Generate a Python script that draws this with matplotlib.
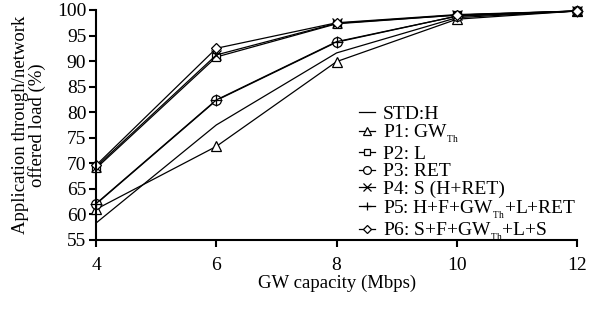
import matplotlib
matplotlib.use('Agg')
import matplotlib.pyplot as plt

plt.rcParams['font.family'] = ['Liberation Serif', 'DejaVu Serif']
plt.rcParams['mathtext.fontset'] = 'custom'
plt.rcParams['mathtext.rm'] = 'Liberation Serif'

# GW capacity (Mbps)
capacity = [4, 6, 8, 10, 12]

# application throughput / network offered load (%)
std_h = [58.3, 77.5, 91.6, 98.5, 99.8]
p1 = [61.0, 73.3, 89.9, 98.2, 99.8]
p2 = [69.0, 90.8, 97.3, 99.0, 99.8]
p3 = [62.0, 82.3, 93.7, 98.8, 99.8]
p4 = [69.3, 91.2, 97.4, 99.0, 99.8]
p5 = [62.1, 82.4, 93.8, 98.8, 99.8]
p6 = [69.6, 92.5, 97.5, 99.1, 99.8]

th = '$_{_{\\mathrm{Th}}}$'
labels = ['STD:H', 'P1: GW' + th, 'P2: L', 'P3: RET', 'P4: S (H+RET)',
          'P5: H+F+GW' + th + '+L+RET', 'P6: S+F+GW' + th + '+L+S']

series = [std_h, p1, p2, p3, p4, p5, p6]
markers = [None, '^', 's', 'o', 'x', '+', 'D']
msizes = [0, 7, 6, 7, 7, 8, 5.5]

fig = plt.figure(figsize=(5.89, 3.12), dpi=100)
ax = fig.add_axes([0.163, 0.231, 0.817, 0.737])

for y, m, ms, lab in zip(series, markers, msizes, labels):
    ax.plot(capacity, y, color='black', linewidth=0.9, marker=m, markersize=ms,
            markerfacecolor='white', markeredgecolor='black', markeredgewidth=0.9,
            label=lab, clip_on=False)

ax.set_xlim(4, 12)
ax.set_ylim(55, 100)
ax.set_xticks(capacity)
ax.set_yticks(range(55, 101, 5))
ax.spines['top'].set_visible(False)
ax.spines['right'].set_visible(False)
ax.spines['left'].set_linewidth(1.5)
ax.spines['bottom'].set_linewidth(1.5)
ax.tick_params(direction='out', length=5, width=1.5, labelsize=14, colors='black')
ax.tick_params(axis='x', pad=7)
ax.tick_params(axis='y', pad=2)

ax.set_xlabel('GW capacity (Mbps)', fontsize=13.5, labelpad=1)
ax.set_ylabel('Application through/network\noffered load (%)', fontsize=13.5,
              labelpad=8, linespacing=0.95)

leg = ax.legend(loc='lower right', bbox_to_anchor=(1.019, -0.057), frameon=False, fontsize=14,
                handlelength=0.85, handletextpad=0.4, labelspacing=0.0, borderaxespad=0.1,
                markerscale=0.8)

fig.savefig('out.png', dpi=100)
